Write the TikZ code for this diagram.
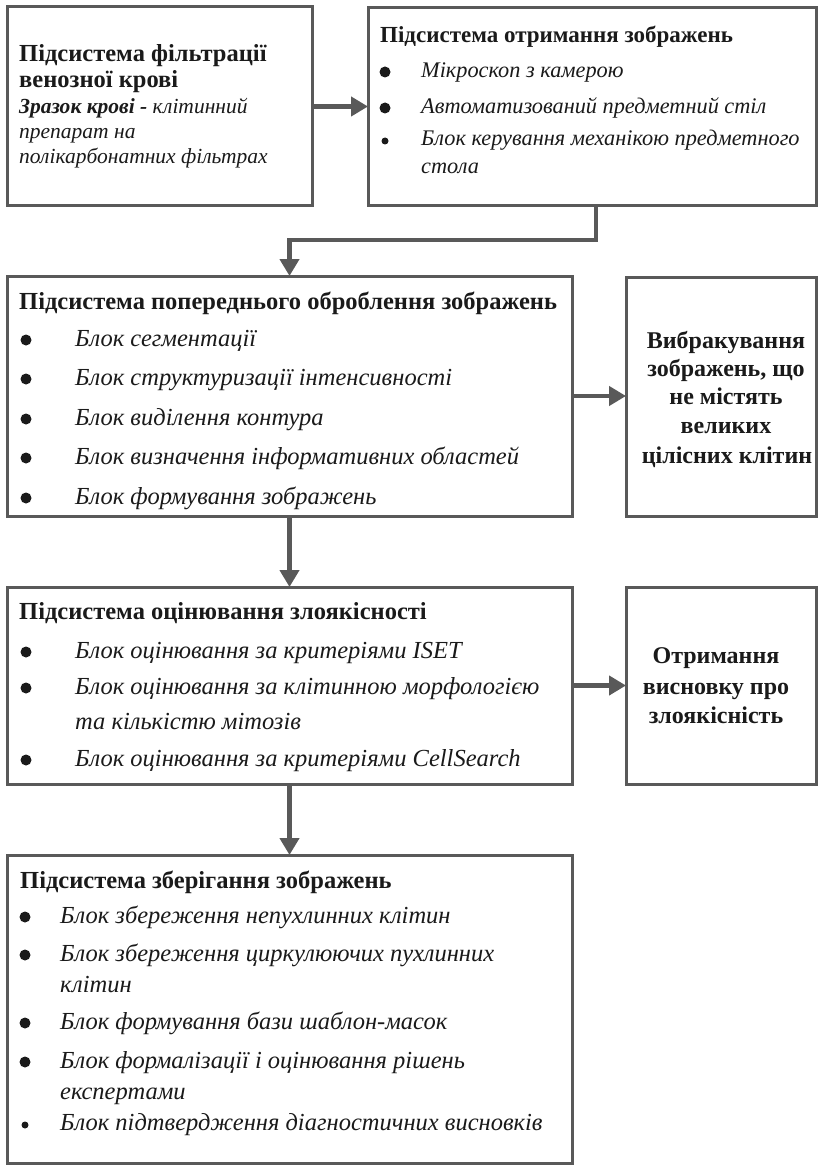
\documentclass[tikz,border=0pt]{standalone}
\usepackage{fontspec}
\setmainfont{Liberation Serif}
\usetikzlibrary{arrows.meta}
\definecolor{edge}{HTML}{595959}
\definecolor{ink}{HTML}{1A1A1A}
\begin{document}
\begin{tikzpicture}[x=1pt,y=-1pt,
  box/.style={draw=edge, line width=3pt, fill=white, inner sep=0pt, outer sep=0pt, rectangle},
  ttl/.style={font=\bfseries\fontsize{24.5}{28}\selectfont, text=ink, inner sep=0pt, anchor=base west},
  ttlb/.style={font=\bfseries\fontsize{23}{28}\selectfont, text=ink, inner sep=0pt, anchor=base west},
  ctr/.style={font=\bfseries\fontsize{24}{28}\selectfont, text=ink, inner sep=0pt, anchor=base},
  itm/.style={font=\itshape\fontsize{24.5}{28}\selectfont, text=ink, inner sep=0pt, anchor=base west},
  itmb/.style={font=\itshape\fontsize{22.3}{28}\selectfont, text=ink, inner sep=0pt, anchor=base west},
  itma/.style={font=\itshape\fontsize{21.5}{28}\selectfont, text=ink, inner sep=0pt, anchor=base west},
  dot/.style={circle, fill=ink, inner sep=0pt, minimum size=11pt},
  sdot/.style={circle, fill=ink, inner sep=0pt, minimum size=7pt},
  flow/.style={draw=edge, line width=4.5pt, -{Triangle[length=17pt,width=19pt]}}
]
\useasboundingbox (0,0) rectangle (818,1166);
% boxes
\node[box, minimum width=305pt, minimum height=199pt] (b1) at (159.5,106.5) {};
\node[box, minimum width=448pt, minimum height=198pt] (b2) at (592,107) {};
\node[box, minimum width=565pt, minimum height=240pt] (b3) at (289.5,396) {};
\node[box, minimum width=190.5pt, minimum height=239pt] (b4) at (721.25,396.5) {};
\node[box, minimum width=565pt, minimum height=197pt] (b5) at (289.5,685.5) {};
\node[box, minimum width=190.5pt, minimum height=197pt] (b6) at (721.25,685.5) {};
\node[box, minimum width=565pt, minimum height=308pt] (b7) at (289.5,1009) {};

% box 1
\node[ttl] (t1a) at (19,62) {Підсистема фільтрації};
\node[ttl] (t1b) at (19,88) {венозної крові};
\node[itma] (t1c) at (19,114) {\textbf{Зразок крові -} клітинний};
\node[itma] (t1d) at (19,139) {препарат на};
\node[itma] (t1e) at (19,164) {полікарбонатних фільтрах};

% box 2
\node[ttlb] (t2a) at (380,43) {Підсистема отримання зображень};
\node[dot] (d2a) at (385,72) {};
\node[itmb] (t2b) at (421,78) {Мікроскоп з камерою};
\node[dot] (d2b) at (385,108) {};
\node[itmb] (t2c) at (421,114) {Автоматизований предметний стіл};
\node[sdot] (d2c) at (385,141) {};
\node[itmb] (t2d) at (421,146) {Блок керування механікою предметного};
\node[itmb] (t2e) at (421,174) {стола};

% box 3
\node[ttl] (t3a) at (19,309) {Підсистема попереднього оброблення зображень};
\node[dot] (d3a) at (26,340) {};
\node[itm] (t3b) at (75,346) {Блок сегментації};
\node[dot] (d3b) at (26,379) {};
\node[itm] (t3c) at (75,385) {Блок структуризації інтенсивності};
\node[dot] (d3c) at (26,419) {};
\node[itm] (t3d) at (75,425) {Блок виділення контура};
\node[dot] (d3d) at (26,458) {};
\node[itm] (t3e) at (75,464) {Блок визначення інформативних областей};
\node[dot] (d3e) at (26,498) {};
\node[itm] (t3f) at (75,504) {Блок формування зображень};

% box 4
\node[ctr] (t4a) at (726,348) {Вибракування};
\node[ctr] (t4b) at (726,376) {зображень, що};
\node[ctr] (t4c) at (726,404) {не містять};
\node[ctr] (t4d) at (726,433) {великих};
\node[ctr] (t4e) at (727,463) {цілісних клітин};

% box 5
\node[ttl] (t5a) at (19,619) {Підсистема оцінювання злоякісності};
\node[dot] (d5a) at (26,652) {};
\node[itm] (t5b) at (75,658) {Блок оцінювання за критеріями ISET};
\node[dot] (d5b) at (26,688) {};
\node[itm] (t5c) at (75,694) {Блок оцінювання за клітинною морфологією};
\node[itm] (t5d) at (75,729) {та кількістю мітозів};
\node[dot] (d5c) at (26,760) {};
\node[itm] (t5e) at (75,766) {Блок оцінювання за критеріями CellSearch};

% box 6
\node[ctr] (t6a) at (716,663) {Отримання};
\node[ctr] (t6b) at (716,694) {висновку про};
\node[ctr] (t6c) at (716,723) {злоякісність};

% box 7
\node[ttl] (t7a) at (20,888) {Підсистема зберігання зображень};
\node[dot] (d7a) at (25,917) {};
\node[itm] (t7b) at (60,923) {Блок збереження непухлинних клітин};
\node[dot] (d7b) at (25,955) {};
\node[itm] (t7c) at (60,961) {Блок збереження циркулюючих пухлинних};
\node[itm] (t7d) at (60,992) {клітин};
\node[dot] (d7c) at (25,1023) {};
\node[itm] (t7e) at (60,1029) {Блок формування бази шаблон-масок};
\node[dot] (d7d) at (25,1062) {};
\node[itm] (t7f) at (60,1068) {Блок формалізації і оцінювання рішень};
\node[itm] (t7g) at (60,1099) {експертами};
\node[sdot] (d7e) at (25,1125) {};
\node[itm] (t7h) at (60,1130) {Блок підтвердження діагностичних висновків};

% connectors
\coordinate (j1) at (596,240);
\draw[flow] (b1.east) -- (b1.east -| b2.west);
\draw[flow] (b2.south -| j1) -- (j1) -| (b3.north);
\draw[flow] (b3.east) -- (b3.east -| b4.west);
\draw[flow] (b3.south) -- (b5.north);
\draw[flow] (b5.east) -- (b5.east -| b6.west);
\draw[flow] (b5.south) -- (b7.north);
\end{tikzpicture}
\end{document}
